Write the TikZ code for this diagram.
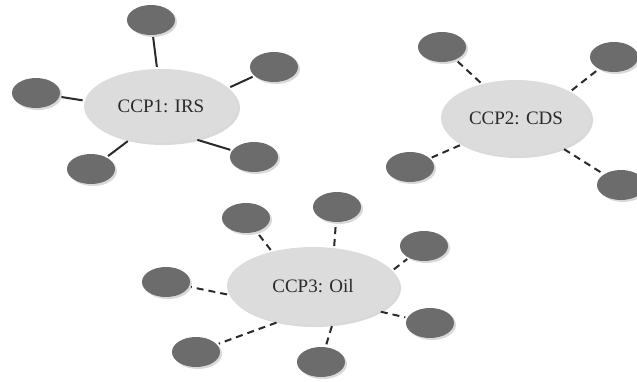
\documentclass[tikz,border=0pt]{standalone}
\usepackage{fontspec}
\setmainfont{Liberation Serif}
\usetikzlibrary{shapes.geometric,shadows}
\definecolor{hubgray}{HTML}{DCDCDC}
\definecolor{leafgray}{HTML}{6C6C6C}
\definecolor{inkgray}{HTML}{2A2A2A}
\tikzset{
    hub/.style={ellipse,fill=hubgray,text=inkgray,inner sep=0pt,
        font=\fontsize{19}{22}\selectfont,
        drop shadow={opacity=0.3,shadow xshift=2pt,shadow yshift=-2pt}},
    leaf/.style={ellipse,fill=leafgray,minimum width=48pt,minimum height=30pt,
        inner sep=0pt,drop shadow={opacity=0.3,shadow xshift=2pt,shadow yshift=-2pt}},
    link/.style={draw=inkgray,line width=2pt,shorten <=2pt,shorten >=2pt},
    dlink/.style={link,dash pattern=on 7pt off 5pt}
}
\begin{document}
\begin{tikzpicture}[x=1pt,y=-1pt]
    \useasboundingbox (0,0) rectangle (637,381);
    
    \node[hub,minimum width=154pt,minimum height=74pt] (C1) at (161,106) {CCP1: IRS};
    \node[leaf] (C1a) at (151,20) {};
    \node[leaf] (C1b) at (274,67) {};
    \node[leaf] (C1c) at (36,93) {};
    \node[leaf] (C1d) at (91,169) {};
    \node[leaf] (C1e) at (254,157) {};
    
    \draw[link] (C1.96) -- (C1a);
    \draw[link] (C1.15) -- (C1b);
    \draw[link] (C1.176) -- (C1c);
    \draw[link] (C1.227) -- (C1d);
    \draw[link] (C1.316) -- (C1e);
    
    
    \node[hub,minimum width=150pt,minimum height=76pt] (C2) at (516,118) {CCP2: CDS};
    \node[leaf] (C2a) at (442,47) {};
    \node[leaf] (C2b) at (614,57) {};
    \node[leaf] (C2c) at (410,167) {};
    \node[leaf] (C2d) at (621,185) {};
    
    \draw[dlink] (C2.135) -- (C2a);
    \draw[dlink] (C2.26) -- (C2b);
    \draw[dlink] (C2.206) -- (C2c);
    \draw[dlink] (C2.327) -- (C2d);
    
    
    \node[hub,minimum width=172pt,minimum height=78pt] (C3) at (313,286) {CCP3: Oil};
    \node[leaf] (C3a) at (246,218) {};
    \node[leaf] (C3b) at (337,207) {};
    \node[leaf] (C3c) at (424,246) {};
    \node[leaf] (C3d) at (166,282) {};
    \node[leaf] (C3e) at (430,323) {};
    \node[leaf] (C3f) at (196,352) {};
    \node[leaf] (C3g) at (321,362) {};
    
    \draw[dlink] (C3.140) -- (C3a);
    \draw[dlink] (C3.61) -- (C3b);
    \draw[dlink] (C3.11) -- (C3c);
    \draw[dlink] (C3.186) -- (C3d);
    \draw[dlink] (C3.339) -- (C3e);
    \draw[dlink] (C3.226) -- (C3f);
    \draw[dlink] (C3.297) -- (C3g);
    
    \end{tikzpicture}
\end{document}
